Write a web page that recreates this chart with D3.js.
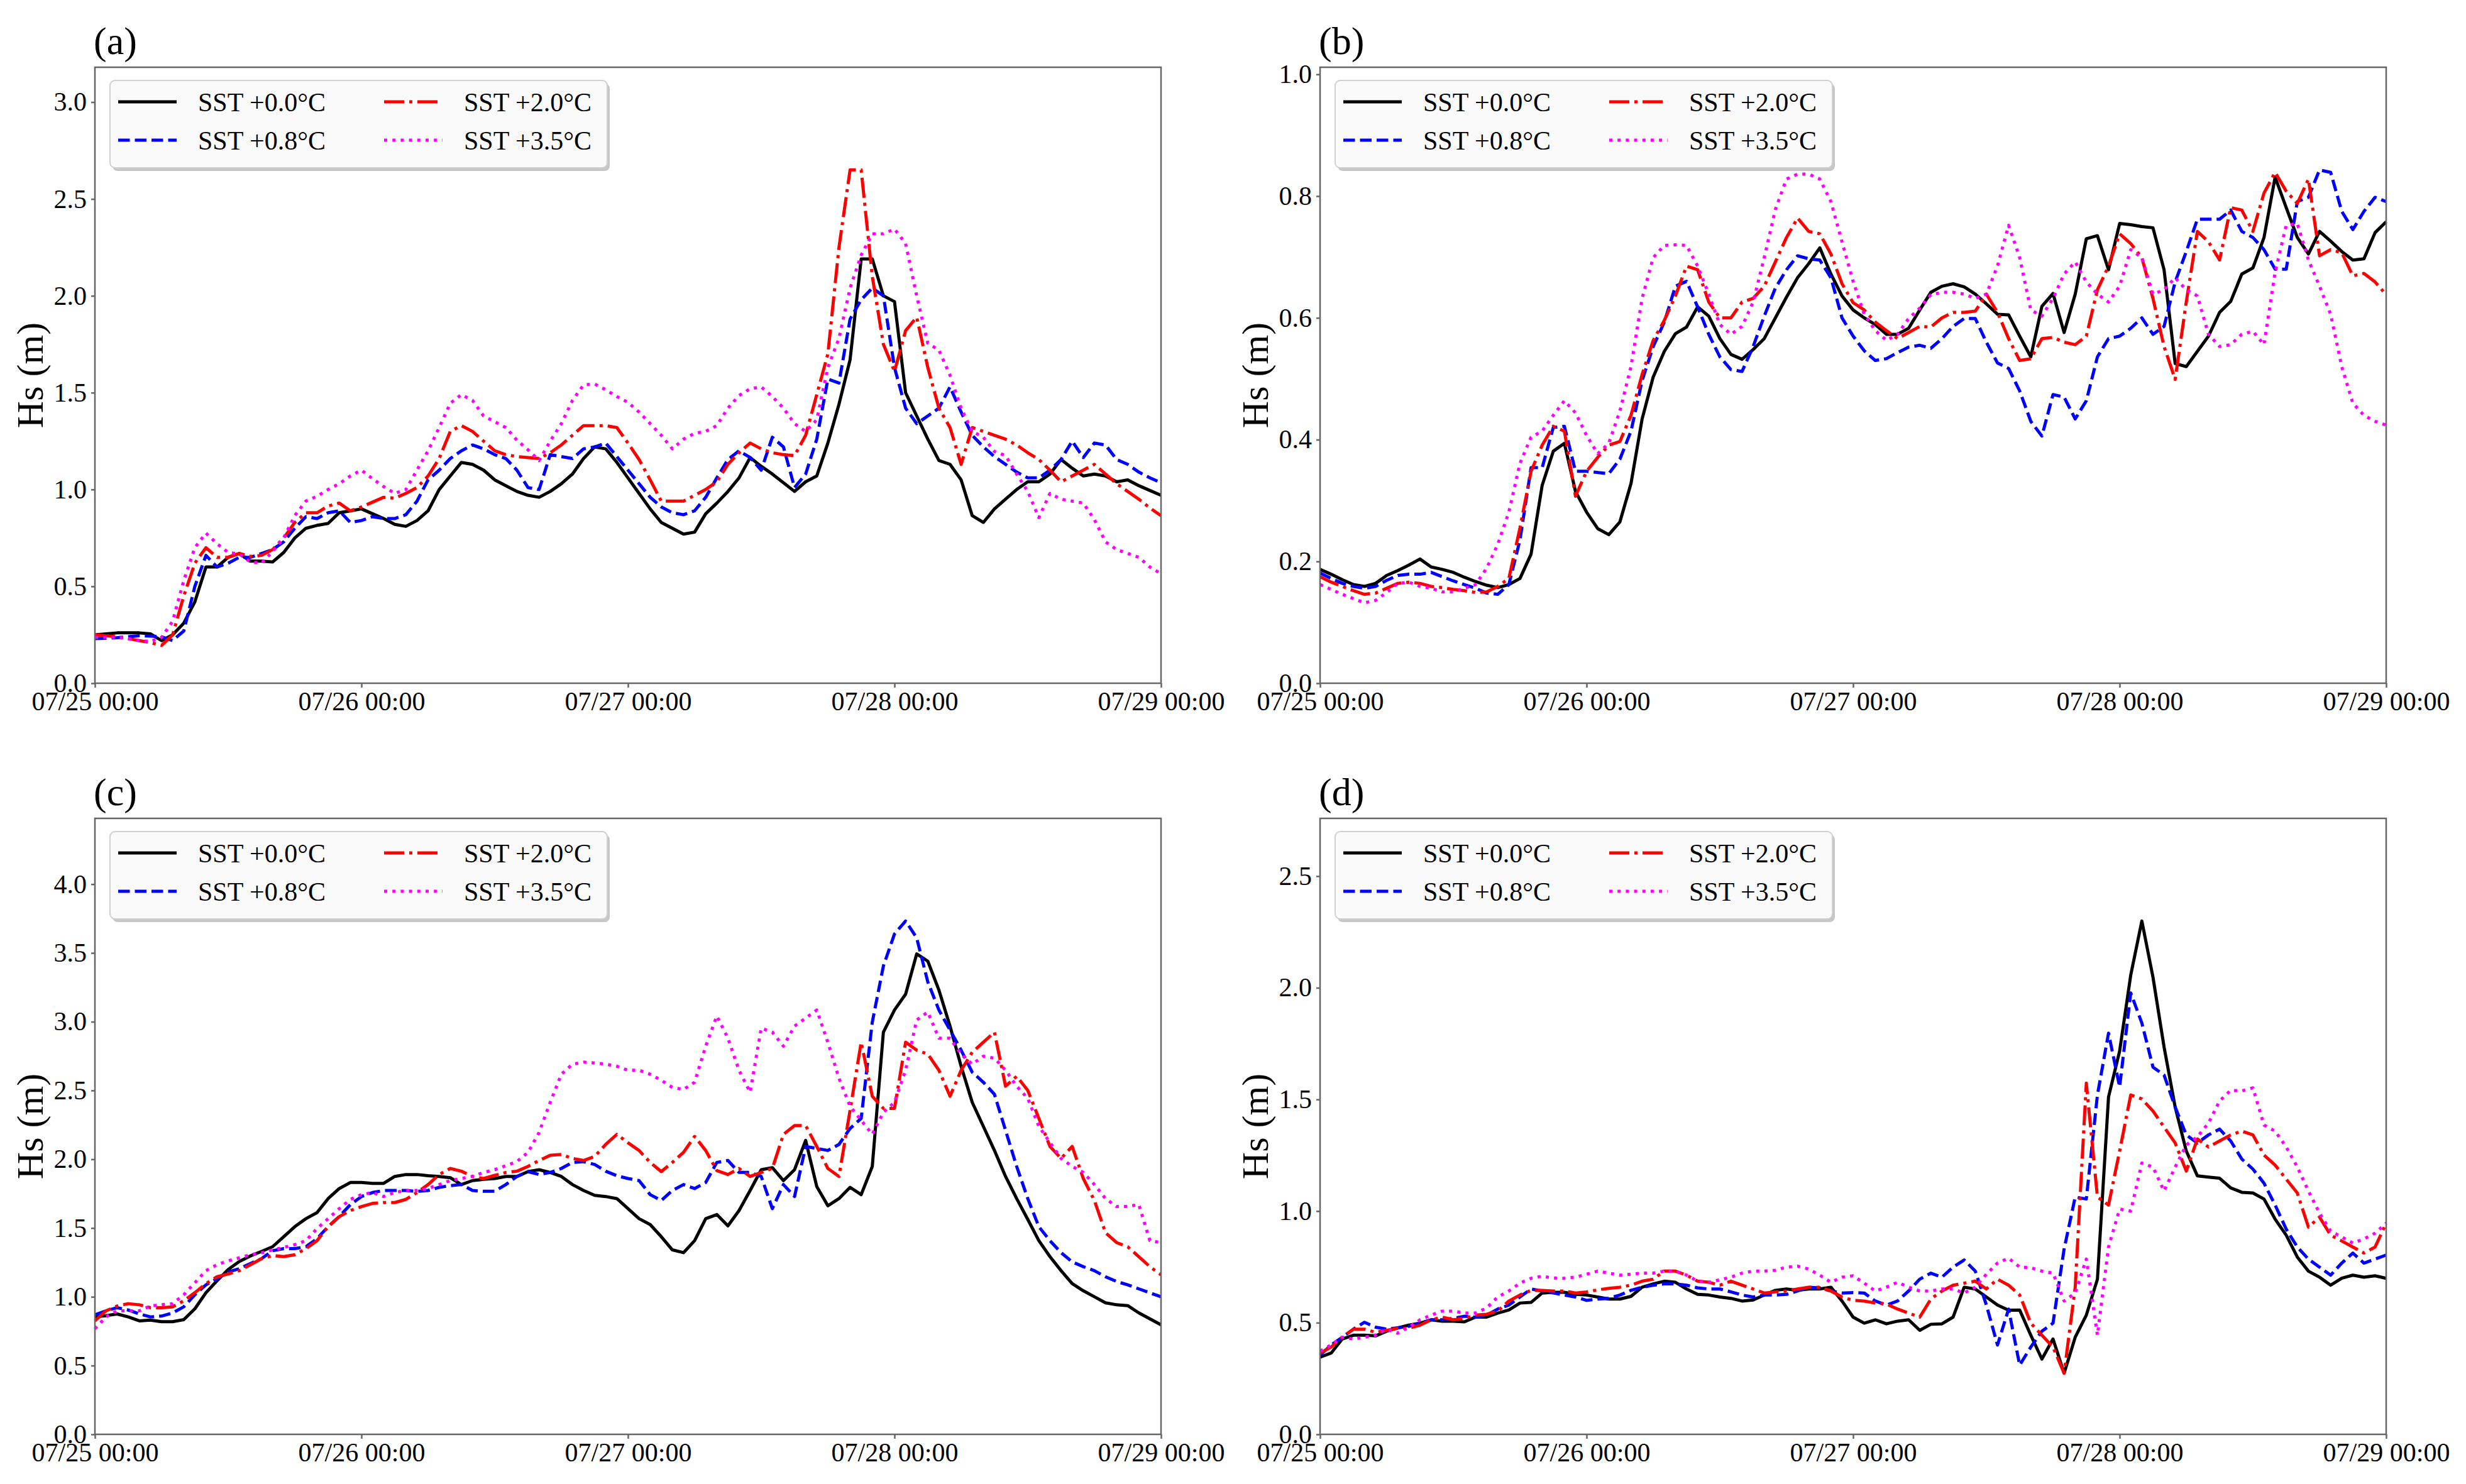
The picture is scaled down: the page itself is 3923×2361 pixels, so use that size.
<!DOCTYPE html>
<html>
<head>
<meta charset="utf-8">
<script src="https://cdn.jsdelivr.net/npm/d3@7"></script>
<style>
  body { margin: 0; background: #fff; }
  text { font-family: "Liberation Serif", "Times New Roman", serif; fill: #000; }
</style>
</head>
<body>
<svg id="vis"></svg>
<script>
// Hs (m), hourly from 07/25 00:00 to 07/29 00:00
const scenarios = ["SST +0.0°C", "SST +0.8°C", "SST +2.0°C", "SST +3.5°C"];
const panelLabels = ["(a)", "(b)", "(c)", "(d)"];
const yTickSteps = [0.5, 0.2, 0.5, 0.5];
const startDay = "2023-07-25T00:00:00Z";
const endDay = "2023-07-29T00:00:00Z";

// panel (a)
const a00 = [.25,.255,.26,.26,.26,.255,.22,.25,.31,.42, .60,.60,.65,.67,.63,.63,.626,.675,.75,.80,
  .815,.825,.88,.89,.90,.875,.85,.82,.81,.84, .89,1.0,1.07,1.14,1.13,1.10,1.05,1.02,.99,.97,
  .96,.99,1.03,1.08,1.16,1.22,1.21,1.14,1.06,.98, .90,.83,.80,.77,.78,.875,.93,.99,1.06,1.165,
  1.12,1.08,1.035,.99,1.04,1.07,1.24,1.44,1.67,2.19, 2.19,2.0,1.97,1.50,1.38,1.26,1.15,1.13,1.05,.865,
  .83,.90,.95,1.0,1.04,1.04,1.08,1.155,1.11,1.07, 1.08,1.07,1.04,1.05,1.02,.995,.97];
const a08 = [.23,.232,.235,.24,.245,.243,.24,.22,.27,.50, .66,.60,.62,.65,.65,.67,.69,.73,.80,.86,
  .85,.88,.89,.83,.84,.86,.85,.85,.87,.94, 1.05,1.10,1.16,1.20,1.23,1.21,1.18,1.16,1.10,1.01,
  1.0,1.18,1.17,1.16,1.21,1.22,1.24,1.17,1.10,1.03, .96,.91,.88,.87,.89,.96,1.06,1.155,1.20,1.165,
  1.10,1.27,1.22,1.01,1.08,1.26,1.57,1.55,1.88,1.98, 2.04,2.0,1.63,1.42,1.34,1.38,1.42,1.53,1.40,1.28,
  1.22,1.17,1.13,1.09,1.06,1.06,1.10,1.155,1.25,1.165, 1.24,1.23,1.155,1.13,1.09,1.06,1.035];
const a20 = [.25,.245,.24,.23,.22,.21,.195,.25,.45,.62, .70,.65,.65,.67,.655,.66,.69,.75,.83,.88,
  .88,.915,.93,.89,.91,.935,.96,.955,.98,1.01, 1.07,1.16,1.30,1.33,1.30,1.25,1.20,1.18,1.17,1.165,
  1.16,1.19,1.23,1.28,1.33,1.33,1.33,1.32,1.24,1.155, 1.05,.94,.94,.94,.97,1.0,1.04,1.13,1.19,1.24,
  1.21,1.19,1.18,1.175,1.28,1.49,1.70,2.25,2.65,2.65, 2.1,1.75,1.61,1.82,1.89,1.63,1.42,1.32,1.13,1.32,
  1.30,1.28,1.26,1.23,1.19,1.155,1.10,1.04,1.07,1.10, 1.13,1.08,1.03,.99,.95,.905,.865];
const a35 = [.237,.237,.237,.23,.22,.215,.237,.32,.53,.70, .775,.72,.675,.667,.626,.62,.68,.75,.866,.94,
  .965,1.0,1.03,1.07,1.10,1.056,1.015,.98,1.0,1.10, 1.20,1.32,1.445,1.49,1.46,1.38,1.35,1.32,1.255,1.205,
  1.15,1.25,1.34,1.46,1.54,1.545,1.515,1.48,1.45,1.40, 1.34,1.28,1.21,1.26,1.29,1.30,1.33,1.42,1.485,1.52,
  1.53,1.48,1.42,1.34,1.30,1.36,1.63,1.78,2.04,2.21, 2.32,2.32,2.345,2.27,2.0,1.755,1.72,1.59,1.42,1.30,
  1.27,1.196,1.175,1.08,.99,.855,.98,.95,.94,.93, .845,.73,.69,.67,.65,.60,.565];

// panel (b)
const b00 = [.187,.179,.17,.162,.159,.164,.177,.185,.194,.204, .191,.187,.182,.174,.167,.161,.157,.162,.172,.212,
  .325,.381,.394,.315,.281,.254,.244,.265,.328,.434, .503,.545,.574,.585,.618,.603,.566,.54,.532,.548,
  .566,.60,.634,.666,.689,.715,.672,.636,.613,.60, .589,.573,.573,.583,.613,.642,.652,.656,.651,.639,
  .623,.606,.605,.57,.536,.619,.64,.576,.639,.73, .735,.679,.755,.753,.75,.748,.679,.525,.52,.545,
  .57,.609,.627,.672,.682,.732,.831,.781,.732,.705, .742,.726,.709,.695,.697,.74,.758];
const b08 = [.181,.172,.164,.159,.156,.159,.169,.177,.179,.179, .182,.175,.168,.162,.156,.148,.146,.162,.235,.354,
  .354,.42,.422,.348,.348,.346,.344,.368,.414,.497, .553,.593,.652,.66,.618,.573,.536,.515,.512,.553,
  .603,.649,.679,.702,.697,.695,.666,.60,.57,.546, .53,.533,.543,.552,.555,.55,.566,.586,.599,.599,
  .56,.526,.517,.48,.43,.406,.474,.47,.434,.464, .536,.566,.57,.583,.60,.573,.586,.659,.709,.762,
  .762,.762,.777,.742,.732,.712,.68,.68,.791,.798, .843,.839,.775,.745,.775,.798,.791];
const b20 = [.175,.166,.159,.152,.146,.148,.156,.164,.166,.164, .159,.157,.154,.152,.149,.15,.159,.172,.255,.348,
  .391,.422,.414,.307,.348,.371,.391,.397,.44,.507, .563,.596,.636,.685,.679,.626,.60,.60,.626,.632,
  .652,.692,.732,.764,.742,.738,.705,.656,.625,.613, .593,.579,.566,.576,.586,.585,.60,.609,.609,.611,
  .639,.609,.566,.53,.533,.566,.568,.56,.556,.57, .646,.685,.738,.722,.699,.632,.553,.499,.626,.742,
  .725,.695,.781,.777,.742,.805,.839,.808,.788,.828, .702,.712,.707,.669,.673,.659,.638];
const b35 = [.162,.154,.146,.139,.132,.136,.149,.164,.166,.159, .156,.15,.15,.156,.162,.189,.228,.281,.361,.404,
  .414,.44,.464,.444,.407,.377,.394,.447,.52,.632, .699,.719,.72,.719,.685,.639,.589,.573,.586,.626,
  .699,.778,.828,.836,.836,.828,.791,.725,.66,.606, .579,.563,.573,.599,.616,.638,.642,.642,.639,.632,
  .639,.685,.752,.699,.613,.603,.632,.672,.692,.659, .639,.626,.652,.712,.699,.639,.646,.666,.646,.636,
  .573,.553,.556,.573,.578,.556,.675,.752,.755,.695, .652,.606,.52,.46,.44,.43,.424];

// panel (c)
const c00 = [.854,.863,.875,.854,.825,.831,.819,.819,.834,.913, 1.03,1.117,1.198,1.257,1.297,1.33,1.364,1.437,1.51,1.568,
  1.612,1.714,1.787,1.831,1.831,1.825,1.825,1.875,1.889,1.889, 1.88,1.875,1.866,1.816,1.845,1.854,1.86,1.875,1.875,1.91,
  1.924,1.904,1.875,1.816,1.773,1.738,1.729,1.714,1.641,1.568, 1.525,1.437,1.341,1.321,1.408,1.568,1.598,1.516,1.627,1.773,
  1.924,1.939,1.845,1.924,2.137,1.802,1.662,1.714,1.796,1.743, 1.948,2.924,3.085,3.20,3.493,3.44,3.23,2.968,2.676,2.414,
  2.239,2.064,1.875,1.714,1.563,1.408,1.292,1.19,1.096,1.044, 1.0,.956,.942,.936,.883,.84,.796];
const c08 = [.869,.898,.921,.904,.875,.854,.86,.883,.927,1.015, 1.087,1.131,1.181,1.204,1.242,1.277,1.335,1.35,1.35,1.364,
  1.423,1.51,1.583,1.67,1.729,1.758,1.773,1.773,1.773,1.767, 1.773,1.796,1.808,1.816,1.773,1.767,1.767,1.816,1.875,1.91,
  1.889,1.904,1.933,1.977,1.983,1.962,1.913,1.88,1.86,1.845, 1.743,1.70,1.773,1.816,1.787,1.831,1.977,1.991,1.904,1.904,
  1.875,1.641,1.816,1.729,2.093,2.079,2.064,2.108,2.224,2.297, 2.997,3.405,3.638,3.732,3.609,3.289,3.085,2.939,2.793,2.633,
  2.56,2.472,2.21,1.948,1.714,1.51,1.408,1.321,1.254,1.219, 1.19,1.146,1.111,1.087,1.058,1.029,1.0];
const c20 = [.825,.898,.933,.95,.942,.921,.921,.927,.971,1.03, 1.096,1.146,1.166,1.19,1.233,1.277,1.30,1.292,1.306,1.35,
  1.408,1.51,1.583,1.627,1.656,1.679,1.685,1.685,1.708,1.758, 1.816,1.889,1.933,1.913,1.875,1.86,1.883,1.904,1.913,1.948,
  1.991,2.029,2.035,2.006,1.991,2.02,2.108,2.181,2.12,2.064, 1.977,1.91,1.977,2.05,2.166,2.064,1.918,1.889,1.933,1.875,
  1.904,1.933,2.181,2.245,2.245,2.093,1.933,1.875,2.356,2.851, 2.458,2.37,2.37,2.851,2.793,2.764,2.647,2.458,2.647,2.778,
  2.851,2.924,2.531,2.603,2.501,2.297,2.093,2.006,2.093,1.86, 1.70,1.466,1.394,1.364,1.292,1.219,1.16];
const c35 = [.767,.854,.898,.898,.898,.933,.942,.95,1.015,1.102, 1.19,1.233,1.262,1.283,1.306,1.32,1.341,1.359,1.379,1.408,
  1.496,1.568,1.641,1.708,1.743,1.758,1.729,1.758,1.773,1.773, 1.787,1.816,1.845,1.86,1.875,1.904,1.924,1.953,1.983,2.05,
  2.195,2.414,2.618,2.691,2.706,2.70,2.691,2.676,2.647,2.647, 2.618,2.574,2.522,2.507,2.56,2.822,3.041,2.88,2.647,2.487,
  2.953,2.924,2.822,2.968,3.026,3.085,2.851,2.589,2.385,2.283, 2.181,2.341,2.414,2.647,3.012,3.07,2.88,2.88,2.764,2.691,
  2.749,2.735,2.647,2.531,2.443,2.239,2.122,2.006,1.948,1.904, 1.816,1.714,1.656,1.656,1.671,1.408,1.394];

// panel (d)
const d00 = [.346,.364,.427,.444,.444,.441,.462,.477,.489,.498, .513,.507,.507,.504,.525,.525,.543,.557,.588,.591,
  .633,.636,.636,.627,.624,.615,.606,.606,.618,.659, .674,.686,.681,.651,.627,.624,.615,.609,.597,.602,
  .624,.645,.651,.645,.651,.651,.659,.597,.525,.498, .513,.495,.507,.513,.466,.493,.495,.525,.659,.651,
  .615,.579,.556,.557,.444,.337,.427,.274,.435,.534, .695,1.511,1.717,2.057,2.299,2.048,1.735,1.466,1.269,1.158,
  1.152,1.147,1.104,1.084,1.081,1.054,.964,.892,.794,.731, .704,.668,.699,.713,.704,.71,.699];
const d08 = [.355,.40,.435,.471,.502,.48,.471,.477,.484,.498, .513,.513,.52,.529,.525,.534,.561,.579,.615,.651,
  .642,.633,.624,.615,.60,.606,.609,.624,.645,.659, .668,.674,.674,.668,.656,.651,.651,.638,.624,.615,
  .624,.624,.627,.642,.659,.656,.642,.633,.635,.633, .597,.579,.597,.642,.695,.722,.704,.749,.781,.731,
  .579,.40,.561,.31,.391,.462,.498,.83,1.063,1.054, 1.52,1.797,1.556,1.977,1.842,1.645,1.609,1.466,1.341,1.305,
  1.341,1.367,1.314,1.233,1.188,1.125,1.027,.919,.839,.785, .749,.713,.767,.812,.767,.785,.803];
const d20 = [.364,.391,.435,.471,.471,.457,.466,.475,.475,.489, .513,.525,.513,.52,.534,.538,.552,.597,.624,.645,
  .645,.642,.642,.633,.638,.647,.654,.659,.668,.686, .695,.731,.731,.713,.686,.681,.668,.686,.668,.651,
  .633,.638,.642,.651,.659,.659,.642,.615,.60,.597, .588,.584,.561,.543,.525,.606,.642,.668,.677,.686,
  .651,.695,.668,.624,.498,.444,.391,.274,.659,1.573, 1.063,1.027,1.269,1.52,1.502,1.448,1.376,1.305,1.179,1.323,
  1.287,1.314,1.341,1.358,1.341,1.251,1.206,1.143,1.081,.928, .973,.892,.866,.839,.812,.839,.946];
const d35 = [.373,.40,.435,.427,.435,.444,.471,.453,.48,.513, .534,.552,.552,.543,.543,.566,.615,.642,.677,.699,
  .708,.70,.699,.704,.717,.731,.722,.713,.717,.722, .722,.731,.731,.713,.686,.681,.692,.704,.722,.731,
  .731,.735,.749,.753,.74,.713,.681,.704,.71,.677, .642,.659,.681,.659,.642,.642,.651,.651,.633,.659,
  .717,.767,.789,.749,.746,.731,.722,.597,.633,.785, .444,.839,1.009,1.0,1.215,1.197,1.09,1.197,1.296,1.332,
  1.394,1.493,1.541,1.538,1.552,1.385,1.358,1.287,1.197,1.09, .991,.91,.884,.857,.875,.901,.946];

const panelSeries = [[a00, a08, a20, a35], [b00, b08, b20, b35], [c00, c08, c20, c35], [d00, d08, d20, d35]];

// Estilos
const WIDTH = 3923;
const HEIGHT = 2361;
const PLOTW = 1696;
const PLOTH = 980;
const ORIGINS = [[151, 107], [2100, 107], [151, 1302], [2100, 1302]];
const COLORS = ["#000000", "#0000ff", "#ff0000", "#ff00ff"];
const DASHES = [null, "18.5,8", "32,8,5,8", "5,8.2"];
const LW = 5;

const times = d3.utcHour.range(new Date(startDay), d3.utcHour.offset(new Date(endDay), 1));
const dayTicks = d3.utcDay.range(new Date(startDay), d3.utcDay.offset(new Date(endDay), 1));

const svg = d3.select("#vis")
    .attr("width", WIDTH)
    .attr("height", HEIGHT);

svg.append("rect").attr("width", WIDTH).attr("height", HEIGHT).attr("fill", "#fff");

const escalaX = d3.scaleUtc()
    .domain([new Date(startDay), new Date(endDay)])
    .range([0, PLOTW]);

panelSeries.forEach((series, p) => {
    const [ox, oy] = ORIGINS[p];
    const g = svg.append("g").attr("transform", `translate(${ox}, ${oy})`);

    const ymax = d3.max(series.flat()) * 1.2;
    const escalaY = d3.scaleLinear().domain([0, ymax]).range([PLOTH, 0]);

    // EJE Y
    const ejeY = d3.axisLeft(escalaY)
        .tickValues(d3.range(0, ymax + 1e-9, yTickSteps[p]))
        .tickFormat(d3.format(".1f"))
        .tickSize(6)
        .tickPadding(7);
    const gy = g.append("g").call(ejeY);

    // EJE X
    const ejeX = d3.axisBottom(escalaX)
        .tickValues(dayTicks)
        .tickFormat(d3.utcFormat("%m/%d %H:%M"))
        .tickSize(7)
        .tickPadding(6);
    const gx = g.append("g").attr("transform", `translate(0, ${PLOTH})`).call(ejeX);

    [gx, gy].forEach(ax => {
        ax.select(".domain").remove();
        ax.selectAll(".tick line").attr("stroke", "#666").attr("stroke-width", 2.5);
        ax.selectAll(".tick text").attr("font-size", 42).attr("fill", "#000")
            .style("font-family", "'Liberation Serif', 'Times New Roman', serif");
    });

    // líneas
    const linea = d3.line()
        .x((d, i) => escalaX(times[i]))
        .y(d => escalaY(d));

    series.forEach((vals, s) => {
        g.append("path")
            .datum(vals)
            .attr("fill", "none")
            .attr("stroke", COLORS[s])
            .attr("stroke-width", LW)
            .attr("stroke-linejoin", "round")
            .attr("stroke-dasharray", DASHES[s])
            .attr("d", linea);
    });

    // marco
    g.append("rect")
        .attr("width", PLOTW).attr("height", PLOTH)
        .attr("fill", "none").attr("stroke", "#666").attr("stroke-width", 2.5);

    // leyenda
    const leg = g.append("g").attr("transform", "translate(24, 21)");
    leg.append("rect").attr("x", 4).attr("y", 5).attr("width", 791).attr("height", 139)
        .attr("rx", 8).attr("fill", "#999").attr("opacity", 0.55);
    leg.append("rect").attr("width", 791).attr("height", 139).attr("rx", 8)
        .attr("fill", "#fafafa").attr("stroke", "#d0d0d0").attr("stroke-width", 2);
    scenarios.forEach((name, s) => {
        const col = Math.floor(s / 2), row = s % 2;
        const lx = 13 + col * 423, ly = 34 + row * 61;
        leg.append("line")
            .attr("x1", lx).attr("x2", lx + 93).attr("y1", ly).attr("y2", ly)
            .attr("stroke", COLORS[s]).attr("stroke-width", LW)
            .attr("stroke-dasharray", DASHES[s]);
        leg.append("text")
            .attr("x", lx + 127).attr("y", ly).attr("dy", "0.35em")
            .attr("font-size", 42)
            .text(name);
    });

    // etiquetas
    g.append("text")
        .attr("x", -2).attr("y", -21)
        .attr("font-size", 62)
        .text(panelLabels[p]);

    g.append("text")
        .attr("transform", `translate(-83, ${PLOTH / 2}) rotate(-90)`)
        .attr("text-anchor", "middle")
        .attr("font-size", 60)
        .text("Hs (m)");
});
</script>
</body>
</html>
